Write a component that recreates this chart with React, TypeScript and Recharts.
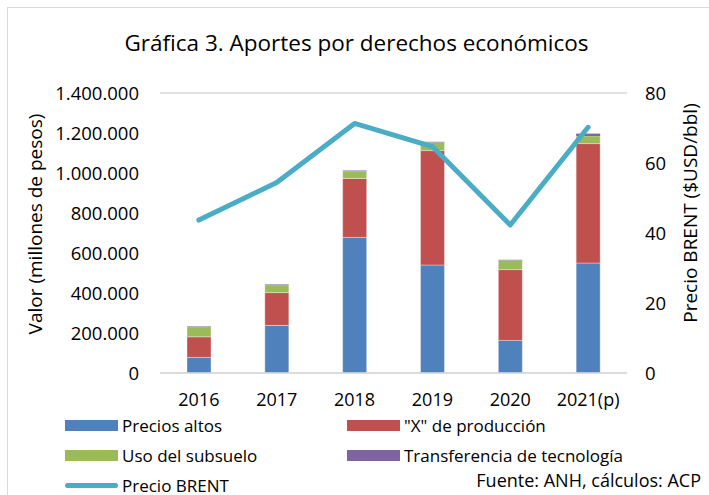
import { ComposedChart, Bar, Line, XAxis, YAxis, CartesianGrid } from 'recharts';

const years = ['2016', '2017', '2018', '2019', '2020', '2021(p)'];
const preciosAltos = [78000, 238000, 678000, 540000, 163000, 550000];
const xProduccion = [103000, 164000, 295000, 572000, 354000, 597000];
const usoSubsuelo = [50000, 39000, 37000, 41000, 46000, 38000];
const transferencia = [2500, 2500, 2500, 3000, 3000, 12000];
const precioBrent = [43.7, 54.4, 71.3, 64.7, 42.3, 70.2];

const leftTicks = [0, 200000, 400000, 600000, 800000, 1000000, 1200000, 1400000];
const rightTicks = [0, 20, 40, 60, 80];

const data = years.map((year, i) => ({
  year,
  altos: preciosAltos[i],
  produccion: xProduccion[i],
  subsuelo: usoSubsuelo[i],
  transferencia: transferencia[i],
  brent: precioBrent[i],
}));

const FONT = '"Open Sans", sans-serif';
const fmt = (v: number) => v.toLocaleString('de-DE');

const legendItems = [
  { label: 'Precios altos', color: '#4F81BD', x: 65, y: 425 },
  { label: '"X" de producción', color: '#C0504D', x: 347, y: 425 },
  { label: 'Uso del subsuelo', color: '#9BBB59', x: 65, y: 455 },
  { label: 'Transferencia de tecnología', color: '#8064A2', x: 347, y: 455 },
];

const App = () => {
  return (
    <div style={{ position: 'absolute', left: 0, top: 0, width: 709, height: 495, background: '#fff', overflow: 'hidden', fontFamily: FONT, color: '#000' }}>
      {/* frame */}
      <div style={{ position: 'absolute', left: 7, top: 7, width: 720, height: 500, border: '1px solid #D9D9D9' }} />
      <div style={{ position: 'absolute', left: 0, right: 0, top: 27, textAlign: 'center', fontSize: 22.5, paddingLeft: 4 }}>
        Gráfica 3. Aportes por derechos económicos
      </div>

      <ComposedChart
        width={709}
        height={495}
        data={data}
        margin={{ top: 93, right: 0, bottom: 92, left: 0 }}
        style={{ position: 'absolute', left: 0, top: 0, fontFamily: FONT }}
      >
        <CartesianGrid vertical={false} stroke="#D9D9D9" strokeWidth={1.5} />
        <XAxis
          dataKey="year"
          height={30}
          axisLine={{ stroke: '#D9D9D9', strokeWidth: 1.5 }}
          tickLine={false}
          tickMargin={14}
          tick={{ fill: '#000', fontSize: 18 }}
          interval={0}
        />
        <YAxis
          yAxisId="left"
          width={160}
          domain={[0, 1400000]}
          ticks={leftTicks}
          tickFormatter={fmt}
          axisLine={false}
          tickLine={false}
          tickMargin={15}
          tick={{ fill: '#000', fontSize: 18.5 }}
          label={{
            content: () => (
              <text x={35} y={224} transform="rotate(-90 35 224)" textAnchor="middle" dominantBaseline="central" fontSize={19} fill="#000">
                Valor (millones de pesos)
              </text>
            ),
          }}
        />
        <YAxis
          yAxisId="right"
          orientation="right"
          width={82}
          domain={[0, 80]}
          ticks={rightTicks}
          axisLine={false}
          tickLine={false}
          tickMargin={12}
          tick={{ fill: '#000', fontSize: 18.5, textAnchor: 'start' }}
          label={{
            content: () => (
              <text x={690} y={213} transform="rotate(-90 690 213)" textAnchor="middle" dominantBaseline="central" fontSize={19} fill="#000">
                Precio BRENT ($USD/bbl)
              </text>
            ),
          }}
        />
        <Bar yAxisId="left" dataKey="altos" stackId="a" fill="#4F81BD" barSize={24} stroke="#ffffff" strokeOpacity={0.35} isAnimationActive={false} />
        <Bar yAxisId="left" dataKey="produccion" stackId="a" fill="#C0504D" barSize={24} stroke="#ffffff" strokeOpacity={0.35} isAnimationActive={false} />
        <Bar yAxisId="left" dataKey="subsuelo" stackId="a" fill="#9BBB59" barSize={24} stroke="#ffffff" strokeOpacity={0.35} isAnimationActive={false} />
        <Bar yAxisId="left" dataKey="transferencia" stackId="a" fill="#8064A2" barSize={24} isAnimationActive={false} />
        <Line
          yAxisId="right"
          type="linear"
          dataKey="brent"
          stroke="#4BACC6"
          strokeWidth={5}
          strokeLinecap="round"
          strokeLinejoin="round"
          dot={false}
          activeDot={false}
          isAnimationActive={false}
        />
      </ComposedChart>

      {legendItems.map((item) => (
        <div key={item.label} style={{ position: 'absolute', left: item.x, top: item.y - 11, height: 22, display: 'flex', alignItems: 'center', fontSize: 17 }}>
          <span style={{ display: 'inline-block', width: 53, height: 11, background: item.color, marginRight: 4 }} />
          <span>{item.label}</span>
        </div>
      ))}
      <div style={{ position: 'absolute', left: 65, top: 474, height: 22, display: 'flex', alignItems: 'center', fontSize: 17 }}>
        <span style={{ display: 'inline-block', width: 53, height: 5, borderRadius: 3, background: '#4BACC6', marginRight: 4 }} />
        <span>Precio BRENT</span>
      </div>
      <div style={{ position: 'absolute', right: 8, top: 468, fontSize: 18 }}>Fuente: ANH, cálculos: ACP</div>
    </div>
  );
};

export default App;
